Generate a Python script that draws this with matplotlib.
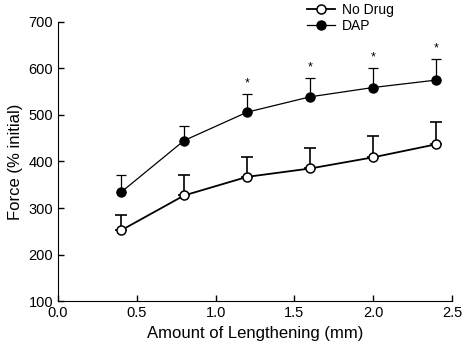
import numpy as np
import matplotlib
matplotlib.use('Agg')
import matplotlib.pyplot as plt

plt.rcParams['font.family'] = ['Liberation Sans', 'DejaVu Sans']

# amount of lengthening (mm)
x = [0.4, 0.8, 1.2, 1.6, 2.0, 2.4]

# force (% initial), mean and upper error
nodrug = [252, 327, 367, 385, 409, 437]
nodrug_err = [34, 43, 43, 43, 46, 47]
dap = [334, 445, 506, 539, 559, 575]
dap_err = [37, 32, 38, 41, 41, 45]

# significance markers on DAP
sig = [False, False, True, True, True, True]

fig = plt.figure(figsize=(4.66, 3.53), dpi=100)
ax = fig.add_axes([0.1245, 0.147, 0.8455, 0.791])

ax.errorbar(x, dap, yerr=[np.zeros(len(dap)), dap_err], fmt='none',
            ecolor='black', elinewidth=0.9, capsize=3.5, capthick=0.9)
ax.errorbar(x, nodrug, yerr=[np.zeros(len(nodrug)), nodrug_err], fmt='none',
            ecolor='black', elinewidth=1.2, capsize=4, capthick=1.2)

ax.plot(x, dap, '-o', color='black', lw=0.9, ms=6.5, mfc='black', mec='black',
        label='DAP', zorder=3)
ax.plot(x, nodrug, '-o', color='black', lw=1.3, ms=6.5, mfc='white', mec='black',
        mew=1.1, label='No Drug', zorder=3)

for xi, yi, ei, s in zip(x, dap, dap_err, sig):
    if s:
        ax.text(xi, yi + ei + 10, '*', ha='center', va='bottom', fontsize=9)

ax.set_xlim(0, 2.5)
ax.set_ylim(100, 700)
ax.set_xticks([0.0, 0.5, 1.0, 1.5, 2.0, 2.5])
ax.set_yticks(range(100, 701, 100))
ax.set_xticklabels(['0.0', '0.5', '1.0', '1.5', '2.0', '2.5'])
ax.tick_params(direction='in', length=4, width=1, labelsize=10.5)
ax.spines['top'].set_visible(False)
ax.spines['right'].set_visible(False)
ax.set_xlabel('Amount of Lengthening (mm)', fontsize=12)
ax.set_ylabel('Force (% initial)', fontsize=12)

h, l = ax.get_legend_handles_labels()
fig.legend(h[::-1], l[::-1], loc='upper left', bbox_to_anchor=(0.633, 1.028),
           frameon=False, fontsize=10, handlelength=2.0, handletextpad=0.5,
           labelspacing=0.15)

fig.savefig('out.png', dpi=100)
